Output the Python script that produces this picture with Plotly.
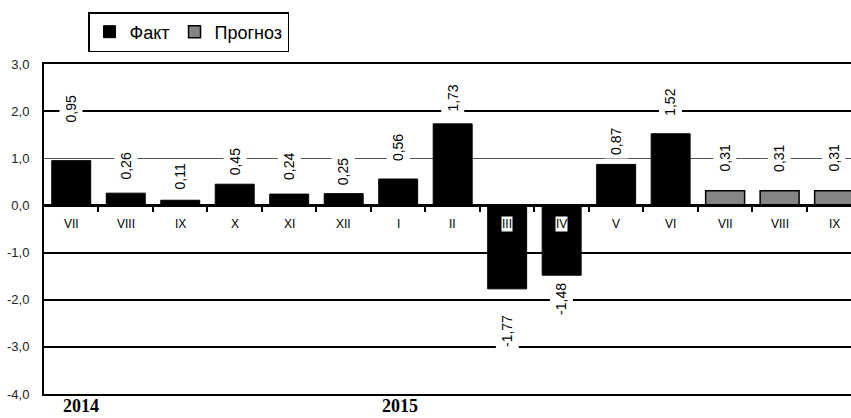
import plotly.graph_objects as go

# Monthly values, July 2014 - September 2015
months = ["VII", "VIII", "IX", "X", "XI", "XII", "I", "II", "III", "IV", "V", "VI",
          "VII", "VIII", "IX"]
fact_values = [0.95, 0.26, 0.11, 0.45, 0.24, 0.25, 0.56, 1.73, -1.77, -1.48, 0.87, 1.52]
forecast_values = [0.31, 0.31, 0.31]
years = ["2014", "2015"]
y_ticks = [-4, -3, -2, -1, 0, 1, 2, 3]

# Height (in axis units) at which each value label is centred
label_heights = [2.04, 0.84, 0.62, 0.93, 0.82, 0.72, 1.22, 2.28, -2.66, -1.99,
                 1.35, 2.19, 1.0, 1.0, 1.0]

n_fact = len(fact_values)
x_fact = list(range(n_fact))
x_fore = list(range(n_fact, n_fact + len(forecast_values)))
all_values = fact_values + forecast_values

FONT = "Liberation Sans, Arial, sans-serif"
X_RANGE = [-0.5, 14.31]
Y_RANGE = [-4, 3]


def fmt(v, nd):
    return f"{v:.{nd}f}".replace(".", ",")


fig = go.Figure()
fig.add_trace(go.Bar(
    x=x_fact, y=fact_values, name="Факт",
    marker=dict(color="black", line=dict(color="black", width=1)),
    hoverinfo="skip",
))
fig.add_trace(go.Bar(
    x=x_fore, y=forecast_values, name="Прогноз", xaxis="x2",
    marker=dict(color="#858585", line=dict(color="black", width=1.5)),
    hoverinfo="skip",
))
# hidden helpers so the grid-line axes get drawn
for ax in ("y2", "y3"):
    fig.add_trace(go.Scatter(
        x=[0], y=[0], yaxis=ax, mode="markers",
        marker=dict(opacity=0), showlegend=False, hoverinfo="skip",
    ))

annotations = []
# value labels, rotated, on a white box that breaks the grid lines
for i, (v, h) in enumerate(zip(all_values, label_heights)):
    annotations.append(dict(
        x=i, y=h, xref="x", yref="y",
        text=fmt(v, 2),
        textangle=-90, showarrow=False,
        xanchor="center", yanchor="middle",
        font=dict(family=FONT, size=14, color="black"),
        bgcolor="white", borderpad=3,
    ))
# month labels just below the zero line
for i, m in enumerate(months):
    annotations.append(dict(
        x=i, y=-0.4, xref="x", yref="y", text=m, showarrow=False,
        xanchor="center", yanchor="middle",
        font=dict(family=FONT, size=12, color="black"),
        bgcolor="white", borderpad=0,
    ))
# year captions under the plot
for xpos, yr in zip([0.18, 6.04], years):
    annotations.append(dict(
        x=xpos, y=-0.072, xref="x", yref="paper", text=f"<b>{yr}</b>",
        showarrow=False, xanchor="center", yanchor="bottom",
        font=dict(family="Liberation Serif, Times New Roman, serif", size=18,
                  color="black"),
    ))

fig.update_layout(
    width=851, height=418,
    margin=dict(l=44, r=0, t=64, b=24),
    paper_bgcolor="white", plot_bgcolor="white",
    barmode="overlay", bargap=0.285,
    showlegend=True,
    legend=dict(
        orientation="h", xref="container", yref="container",
        x=88 / 851, y=1 - 12 / 418, xanchor="left", yanchor="top",
        bordercolor="black", borderwidth=1.5, bgcolor="white",
        font=dict(family=FONT, size=18, color="black"),
        itemclick=False, itemdoubleclick=False,
    ),
    xaxis=dict(
        range=X_RANGE, showgrid=False, zeroline=False,
        showticklabels=False, ticks="",
        showline=True, linecolor="black", linewidth=2, mirror=True,
    ),
    # zero line with short ticks between months
    xaxis2=dict(
        range=X_RANGE, overlaying="x", anchor="free", position=4 / 7,
        side="bottom", showgrid=False, zeroline=False,
        showline=True, linecolor="black", linewidth=2.5,
        tickmode="array", tickvals=[i + 0.5 for i in range(len(months))],
        ticks="outside", ticklen=5, tickwidth=2, tickcolor="black",
        showticklabels=False,
    ),
    yaxis=dict(
        range=Y_RANGE, tickmode="array", tickvals=y_ticks,
        ticktext=[fmt(t, 1) for t in y_ticks],
        showgrid=False, zeroline=False,
        showline=True, linecolor="black", linewidth=2,
        ticks="", ticklabelstandoff=10,
        tickfont=dict(family=FONT, size=13, color="#222"),
    ),
    # heavy grid lines
    yaxis2=dict(
        range=Y_RANGE, overlaying="y", anchor="x",
        tickmode="array", tickvals=[-3, -2, -1, 2],
        showgrid=True, gridcolor="black", gridwidth=2,
        zeroline=False, showticklabels=False, ticks="", showline=False,
    ),
    # light grid line at 1.0
    yaxis3=dict(
        range=Y_RANGE, overlaying="y", anchor="x",
        tickmode="array", tickvals=[1],
        showgrid=True, gridcolor="#555", gridwidth=1,
        zeroline=False, showticklabels=False, ticks="", showline=False,
    ),
    annotations=annotations,
)

fig.write_html("out.html")
